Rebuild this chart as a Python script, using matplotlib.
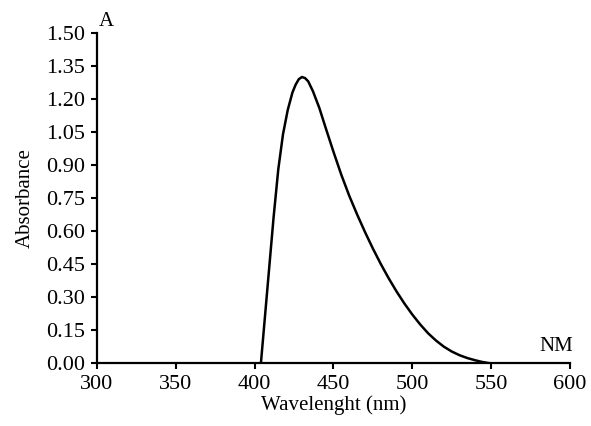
import matplotlib
matplotlib.use("Agg")
import matplotlib.pyplot as plt

# valores (comprimento de onda em nm, absorvância)
comprimento = [404, 408, 412, 415, 418, 421, 424, 426, 428, 430, 432, 434, 437, 441, 445, 450,
               455, 460, 465, 470, 475, 480, 485, 490, 495, 500, 505, 510, 515, 520, 525, 530,
               535, 540, 544, 548]
absorvancia = [0.0, 0.33, 0.66, 0.88, 1.04, 1.15, 1.23, 1.265, 1.29, 1.30, 1.295, 1.28, 1.235,
               1.16, 1.07, 0.96, 0.855, 0.76, 0.675, 0.595, 0.52, 0.45, 0.385, 0.325, 0.27, 0.22,
               0.175, 0.135, 0.102, 0.074, 0.052, 0.035, 0.022, 0.012, 0.005, 0.0]

ticks_x = [300, 350, 400, 450, 500, 550, 600]
ticks_y = [0.00, 0.15, 0.30, 0.45, 0.60, 0.75, 0.90, 1.05, 1.20, 1.35, 1.50]

plt.rcParams["font.family"] = ["Liberation Serif", "DejaVu Serif"]

fig = plt.figure(figsize=(5.91, 4.26), dpi=100)
ax = fig.add_axes([0.164, 0.148, 0.8005, 0.7745])

ax.plot(comprimento, absorvancia, color="black", lw=1.8, solid_joinstyle="round")

ax.set_xlim(300, 600)
ax.set_ylim(0, 1.5)
ax.set_xticks(ticks_x)
ax.set_yticks(ticks_y)
ax.set_yticklabels([f"{v:.2f}" for v in ticks_y])

for s in ["top", "right"]:
    ax.spines[s].set_visible(False)
for s in ["left", "bottom"]:
    ax.spines[s].set_linewidth(1.6)
ax.tick_params(direction="out", length=4.5, width=1.5, labelsize=16, pad=4)

ax.set_xlabel("Wavelenght (nm)", fontsize=15, labelpad=1)
ax.set_ylabel("Absorbance", fontsize=15, labelpad=8)

ax.text(0.019, 1.005, "A", transform=ax.transAxes, fontsize=15, ha="center", va="bottom")
ax.text(0.97, 0.02, "NM", transform=ax.transAxes, fontsize=15, ha="center", va="bottom")

fig.savefig("out.png", dpi=100)
